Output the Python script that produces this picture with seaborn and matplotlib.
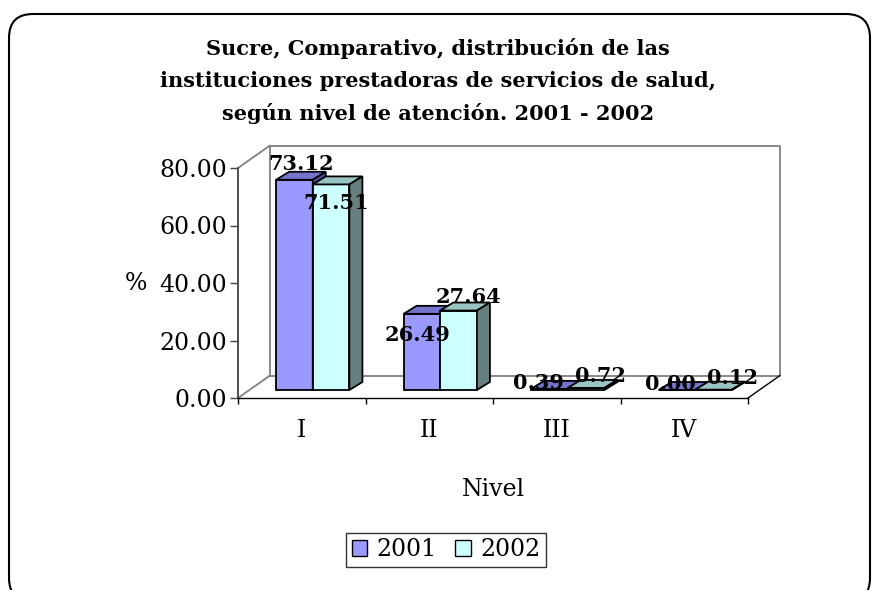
import pandas as pd
import seaborn as sns
import matplotlib.pyplot as plt
from matplotlib.patches import Polygon, Patch, FancyBboxPatch
from matplotlib.transforms import ScaledTranslation

# datos
niveles = ["I", "II", "III", "IV"]
anios = ["2001", "2002"]
pct_2001 = [73.12, 26.49, 0.39, 0.00]
pct_2002 = [71.51, 27.64, 0.72, 0.12]
y_ticks = [0, 20, 40, 60, 80]

df = pd.DataFrame({
    "Nivel": niveles * 2,
    "Año": [anios[0]] * len(niveles) + [anios[1]] * len(niveles),
    "pct": pct_2001 + pct_2002,
})

front_colors = ["#9999FF", "#CCFFFF"]
top_colors = ["#7474CC", "#99C4C4"]
side_colors = ["#4C4C99", "#668080"]

# label offsets (pixels) relative to the top of each bar's front face
label_offsets = [
    [(7, 16), (-4, -21), (-11, 6), (-6, 6)],
    [(5, -19), (10, 14), (14, 12), (19, 12)],
]

sns.set_theme(style="white")
plt.rcParams["font.family"] = ["DejaVu Serif"]
plt.rcParams["text.color"] = "black"
plt.rcParams["axes.labelcolor"] = "black"
plt.rcParams["xtick.color"] = "black"
plt.rcParams["ytick.color"] = "black"

W, H = 876, 590
fig = plt.figure(figsize=(W / 100, H / 100), dpi=100)
ax_w, ax_h = 510, 230
ax = fig.add_axes([238 / W, 1 - 398 / H, ax_w / W, ax_h / H])

sns.barplot(data=df, x="Nivel", y="pct", hue="Año", palette=front_colors,
            width=0.575, saturation=1, edgecolor="black", linewidth=1.3,
            legend=False, ax=ax)
ax.set_xlim(-0.5, 3.5)
ax.set_ylim(0, 80)

px_x = ax_w / 4.0
px_y = ax_h / 80.0

def shift(dx, dy):
    return ax.transData + ScaledTranslation(dx / 100, dy / 100, fig.dpi_scale_trans)

bar_tr = shift(11, 8)
ddx, ddy = 13 / px_x, 8 / px_y

for i, cont in enumerate(ax.containers):
    for j, bar in enumerate(cont):
        x0, w, h = bar.get_x(), bar.get_width(), bar.get_height()
        z = 3 + i
        bar.set_transform(bar_tr)
        bar.set_clip_on(False)
        bar.set_zorder(z)
        top = Polygon([(x0, h), (x0 + w, h), (x0 + w + ddx, h + ddy), (x0 + ddx, h + ddy)],
                      closed=True, facecolor=top_colors[i], edgecolor="black",
                      linewidth=1.3, transform=bar_tr, clip_on=False, zorder=z)
        side = Polygon([(x0 + w, 0), (x0 + w + ddx, ddy), (x0 + w + ddx, h + ddy), (x0 + w, h)],
                       closed=True, facecolor=side_colors[i], edgecolor="black",
                       linewidth=1.3, transform=bar_tr, clip_on=False, zorder=z)
        ax.add_patch(top)
        ax.add_patch(side)
        ox, oy = label_offsets[i][j]
        ax.annotate(f"{h:.2f}", xy=(x0 + w / 2, h), xycoords=bar_tr,
                    xytext=(ox, oy), textcoords="offset pixels",
                    ha="center", va="center", fontsize=15, fontweight="bold",
                    color="black", zorder=10, annotation_clip=False)

# walls (back wall + floor)
wall = dict(color="#808080", linewidth=1.3, clip_on=False, zorder=1)
back = ax.transAxes + ScaledTranslation(32 / 100, 22.5 / 100, fig.dpi_scale_trans)
ax.plot([0, 0, 1, 1, 0], [0, 1, 1, 0, 0], transform=back, **wall)
for yy in (0, 1):
    x_front = ax.transAxes.transform((0, yy))
    x_back = back.transform((0, yy))
    ax.plot([x_front[0], x_back[0]], [x_front[1], x_back[1]], transform=None, **wall)
fr = ax.transAxes.transform((1, 0))
br = back.transform((1, 0))
ax.plot([fr[0], br[0]], [fr[1], br[1]], transform=None, color="black",
        linewidth=1, clip_on=False, zorder=2)

# axes
sns.despine(ax=ax, top=True, right=True)
ax.spines["left"].set_color("#404040")
ax.spines["bottom"].set_color("black")
ax.spines["left"].set_linewidth(1.3)
ax.spines["bottom"].set_linewidth(1.0)
ax.set_yticks(y_ticks)
ax.set_yticklabels([f"{v:.2f}" for v in y_ticks])
ax.tick_params(axis="y", direction="out", length=6, width=1, color="#404040",
               labelsize=17, pad=2, left=True)
ax.set_xticks(range(len(niveles)))
ax.set_xticklabels(niveles)
ax.set_xticks([-0.5, 0.5, 1.5, 2.5, 3.5], minor=True)
ax.tick_params(axis="x", which="major", length=0, labelsize=17, pad=15)
ax.tick_params(axis="x", which="minor", direction="out", length=4.5, width=1,
               color="black", bottom=True)
ax.set_xlabel("Nivel", fontsize=17, labelpad=26)
ax.set_ylabel("")
fig.text(136 / W, 1 - 284 / H, "%", fontsize=17, ha="center", va="center")

fig.text(438 / W, 1 - 81 / H,
         "Sucre, Comparativo, distribución de las\n"
         "instituciones prestadoras de servicios de salud,\n"
         "según nivel de atención. 2001 - 2002",
         ha="center", va="center", fontsize=15, fontweight="bold", linespacing=1.75)

handles = [Patch(facecolor=c, edgecolor="black", linewidth=1) for c in front_colors]
leg = fig.legend(handles, anios, loc="center", bbox_to_anchor=(446 / W, 1 - 550 / H),
                 ncol=2, fontsize=17, frameon=True, fancybox=False,
                 handlelength=0.65, handleheight=0.65, handletextpad=0.4,
                 columnspacing=0.8, borderpad=0.25, borderaxespad=0)
leg.get_frame().set_edgecolor("black")
leg.get_frame().set_linewidth(1)

frame = FancyBboxPatch((0.09, -0.12), 8.61, 5.88, boxstyle="round,pad=0,rounding_size=0.24",
                       transform=fig.dpi_scale_trans, facecolor="none",
                       edgecolor="black", linewidth=1.5, clip_on=False)
fig.patches.append(frame)

fig.savefig("out.png", dpi=100)
